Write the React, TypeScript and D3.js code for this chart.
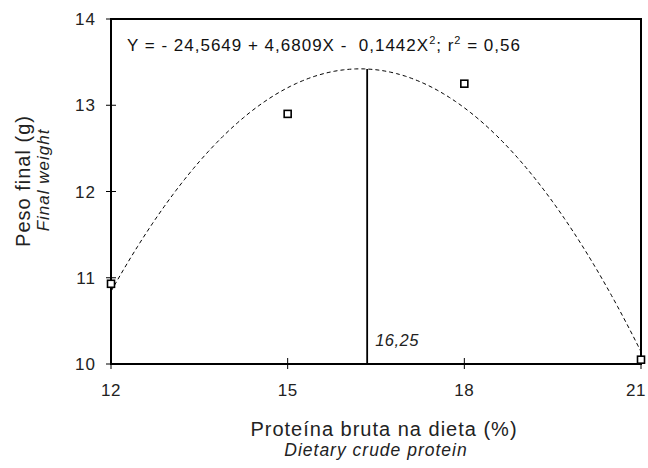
import React from "react";
import * as d3 from "d3";

// Observed means
const proteinLevels = [12, 15, 18, 21];
const finalWeights = [10.93, 12.9, 13.25, 10.05];

// Regression coefficients (from the displayed equation)
const coefA = -24.5649;
const coefB = 4.6809;
const coefC = -0.1442;

// Optimum marker
const optimumX = 16.35;
const optimumLabel = "16,25";

const xTicks = [12, 15, 18, 21];
const yTicks = [10, 11, 12, 13, 14];

const W = 648;
const H = 468;
const left = 111;
const right = 641;
const top = 19;
const bottom = 364;
const FONT = "'Liberation Sans', Arial, Helvetica, sans-serif";

export default function App() {
  const x = d3.scaleLinear().domain([12, 21]).range([left, right]);
  const y = d3.scaleLinear().domain([10, 14]).range([bottom, top]);
  const f = (v: number) => coefA + coefB * v + coefC * v * v;

  const xs = d3.range(12, 21.0001, 0.05);
  const line = d3
    .line<number>()
    .x((v) => x(v))
    .y((v) => y(f(v)));

  const sq = 7;

  return (
    <svg
      width={W}
      height={H}
      style={{ position: "absolute", left: 0, top: 0, background: "#fff" }}
      fontFamily={FONT}
    >
      <rect x={0} y={0} width={W} height={H} fill="#fff" />
      {/* fitted curve */}
      <path
        d={line(xs) || ""}
        fill="none"
        stroke="#000"
        strokeWidth={1}
        strokeDasharray="4,3"
      />
      {/* optimum vertical line */}
      <line
        x1={x(optimumX)}
        x2={x(optimumX)}
        y1={y(f(optimumX))}
        y2={bottom}
        stroke="#000"
        strokeWidth={1.8}
      />
      <text
        x={x(optimumX) + 8}
        y={346}
        fontSize={16.5}
        fontStyle="italic"
        letterSpacing={0.5}
        fill="#222"
      >
        {optimumLabel}
      </text>
      {/* frame */}
      <rect
        x={left}
        y={top}
        width={right - left}
        height={bottom - top}
        fill="none"
        stroke="#000"
        strokeWidth={2}
      />
      {/* y ticks */}
      {yTicks.map((t) => (
        <g key={"y" + t}>
          <line x1={left - 5} x2={left + 5} y1={y(t)} y2={y(t)} stroke="#000" strokeWidth={1} />
          <text
            x={96}
            y={y(t) + 6}
            textAnchor="end"
            fontSize={17}
            letterSpacing={1}
            fill="#222"
          >
            {t}
          </text>
        </g>
      ))}
      {/* x ticks */}
      {xTicks.map((t) => (
        <g key={"x" + t}>
          <line x1={x(t)} x2={x(t)} y1={bottom - 6} y2={bottom + 5} stroke="#000" strokeWidth={1} />
          <text
            x={Math.min(x(t), W - 12)}
            y={396}
            textAnchor="middle"
            fontSize={17}
            letterSpacing={0.5}
            fill="#222"
          >
            {t}
          </text>
        </g>
      ))}
      {/* data points */}
      {proteinLevels.map((p, i) => (
        <rect
          key={"p" + i}
          x={x(p) - sq / 2}
          y={y(finalWeights[i]) - sq / 2}
          width={sq}
          height={sq}
          fill="#fff"
          stroke="#000"
          strokeWidth={1.6}
        />
      ))}
      {/* equation */}
      <text x={127} y={51} fontSize={17} letterSpacing={1} fill="#111" style={{ whiteSpace: "pre" }}>
        <tspan>{"Y = - 24,5649 + 4,6809X -  0,1442X"}</tspan>
        <tspan fontSize={11} dy={-7}>2</tspan>
        <tspan dy={7}>{"; r"}</tspan>
        <tspan fontSize={11} dy={-7}>2</tspan>
        <tspan dy={7}>{" = 0,56"}</tspan>
      </text>
      {/* x axis title */}
      <text x={384} y={436} textAnchor="middle" fontSize={20} letterSpacing={1} fill="#222">
        Proteína bruta na dieta (%)
      </text>
      <text
        x={376}
        y={456}
        textAnchor="middle"
        fontSize={17.5}
        fontStyle="italic"
        letterSpacing={1}
        fill="#222"
      >
        Dietary crude protein
      </text>
      {/* y axis title */}
      <text
        transform="translate(30,181) rotate(-90)"
        textAnchor="middle"
        fontSize={20}
        letterSpacing={1}
        fill="#222"
      >
        Peso final (g)
      </text>
      <text
        transform="translate(49,180) rotate(-90)"
        textAnchor="middle"
        fontSize={17}
        fontStyle="italic"
        letterSpacing={1}
        fill="#222"
      >
        Final weight
      </text>
    </svg>
  );
}
